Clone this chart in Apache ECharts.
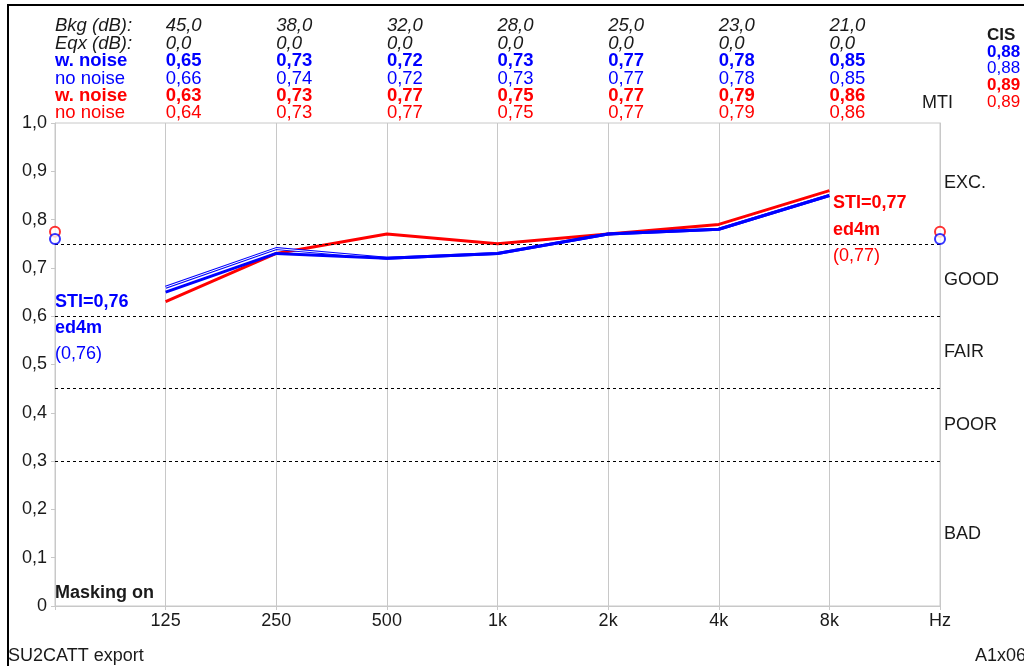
<!DOCTYPE html>
<html lang="en">

<head>
    <meta charset="UTF-8">
    <title>STI / MTI</title>
    <style>
        html, body { margin: 0; padding: 0; background: #fff; }
    </style>
</head>

<body>
    <div id="main" style="width: 1024px;height:666px;"></div>
</body>
<script src="https://cdn.jsdelivr.net/npm/echarts@6/dist/echarts.min.js"></script>

<script>
    // octave bands, first and last slot are the frame edges
    var freqLabels = ['', '125', '250', '500', '1k', '2k', '4k', '8k', 'Hz'];
    var rowNames = ['Bkg (dB):', 'Eqx (dB):', 'w. noise', 'no noise', 'w. noise', 'no noise'];
    var bkg = [45, 38, 32, 28, 25, 23, 21];
    var eqx = [0, 0, 0, 0, 0, 0, 0];
    var blueNoise = [0.65, 0.73, 0.72, 0.73, 0.77, 0.78, 0.85];
    var blueClean = [0.66, 0.74, 0.72, 0.73, 0.77, 0.78, 0.85];
    var redNoise = [0.63, 0.73, 0.77, 0.75, 0.77, 0.79, 0.86];
    var redClean = [0.64, 0.73, 0.77, 0.75, 0.77, 0.79, 0.86];
    var cis = [0.88, 0.88, 0.89, 0.89];
    var stiBlue = 0.76;
    var stiRed = 0.77;
    var stiMarkBlue = 0.76;
    var stiMarkRed = 0.775;
    var ratingNames = ['EXC.', 'GOOD', 'FAIR', 'POOR', 'BAD'];
    var ratingMid = [0.875, 0.675, 0.525, 0.375, 0.15];
    var limits = [0.3, 0.45, 0.6, 0.75];

    var FONT = "'Liberation Sans', Arial, sans-serif";
    var BLUE = '#0000ff';
    var RED = '#ff0000';
    var GRID = '#c8c8c8';
    var INK = '#1a1a1a';
    var HS = 18.5;

    function comma(v, d) {
        return v.toFixed(d).replace('.', ',');
    }

    function padded(arr) {
        return [null].concat(arr).concat([null]);
    }

    function edge(v) {
        return [[0, v], [8, v]];
    }

    var rich = {
        r0: { fontFamily: FONT, fontSize: HS, fontStyle: 'italic', color: INK, lineHeight: 17.4 },
        r1: { fontFamily: FONT, fontSize: HS, fontStyle: 'italic', color: INK, lineHeight: 17.4 },
        r2: { fontFamily: FONT, fontSize: HS, fontWeight: 'bold', color: BLUE, lineHeight: 17.4 },
        r3: { fontFamily: FONT, fontSize: HS, color: BLUE, lineHeight: 17.4 },
        r4: { fontFamily: FONT, fontSize: HS, fontWeight: 'bold', color: RED, lineHeight: 17.4 },
        r5: { fontFamily: FONT, fontSize: HS, color: RED, lineHeight: 17.4 }
    };

    function headerLabel(value, index) {
        var cells;
        if (index === 0) {
            cells = rowNames;
        } else if (index <= 7) {
            var i = index - 1;
            cells = [comma(bkg[i], 1), comma(eqx[i], 1), comma(blueNoise[i], 2),
                comma(blueClean[i], 2), comma(redNoise[i], 2), comma(redClean[i], 2)];
        } else {
            return '';
        }
        return cells.map(function (c, k) { return '{r' + k + '|' + c + '}'; }).join('\n');
    }

    function txt(text, x, y, color, bold, size) {
        return {
            type: 'text', x: x, y: y, silent: true,
            style: {
                text: text, fill: color || INK,
                font: (bold ? 'bold ' : '') + (size || 18) + 'px ' + FONT,
                textAlign: 'left', textVerticalAlign: 'middle',
                align: 'left', verticalAlign: 'middle'
            }
        };
    }

    var myChart = echarts.init(document.getElementById('main'));
    myChart.setOption({
        animation: false,
        backgroundColor: '#fff',
        grid: { left: 55, right: 84, top: 123, bottom: 60, show: true, borderColor: GRID, borderWidth: 1 },
        xAxis: [{
            type: 'category',
            data: freqLabels,
            boundaryGap: false,
            axisLine: { lineStyle: { color: GRID } },
            axisTick: { show: true, length: 4, lineStyle: { color: GRID } },
            axisLabel: { fontFamily: FONT, fontSize: 18, color: INK, margin: 6, interval: 0 },
            splitLine: { show: true, lineStyle: { color: GRID, width: 1 } }
        }, {
            type: 'category',
            data: freqLabels,
            boundaryGap: false,
            position: 'top',
            axisLine: { show: true, lineStyle: { color: GRID } },
            axisTick: { show: false },
            axisLabel: { interval: 0, align: 'left', margin: 1, formatter: headerLabel, rich: rich },
            splitLine: { show: false }
        }],
        yAxis: [{
            type: 'value',
            min: 0, max: 1, interval: 0.1,
            axisLine: { show: true, lineStyle: { color: GRID } },
            axisTick: { show: true, length: 4, lineStyle: { color: GRID } },
            splitLine: { show: false },
            axisLabel: {
                fontFamily: FONT, fontSize: 18, color: INK, margin: 8,
                formatter: function (v) { return v === 0 ? '0' : comma(v, 1); }
            }
        }, {
            type: 'value',
            position: 'right',
            min: 0, max: 1, interval: 0.025,
            axisLine: { show: true, lineStyle: { color: GRID } },
            axisTick: { show: false },
            splitLine: { show: false },
            axisLabel: {
                fontFamily: FONT, fontSize: 18, color: INK, margin: 4, align: 'left',
                formatter: function (v) {
                    for (var k = 0; k < ratingMid.length; k++) {
                        if (Math.abs(v - ratingMid[k]) < 0.001) return ratingNames[k];
                    }
                    return '';
                }
            }
        }],
        series: [{
            name: 'w. noise red',
            type: 'line',
            data: padded(redNoise),
            symbol: 'none',
            lineStyle: { color: RED, width: 3 },
            markLine: {
                silent: true,
                symbol: ['none', 'none'],
                label: { show: false },
                lineStyle: { color: '#000', width: 1, type: [3, 3] },
                data: limits.map(function (v) { return { yAxis: v }; })
            },
            z: 3
        }, {
            name: 'no noise blue',
            type: 'line',
            data: padded(blueClean),
            symbol: 'none',
            lineStyle: { color: BLUE, width: 3 },
            z: 4
        }, {
            name: 'no noise blue core',
            type: 'line',
            data: padded(blueClean),
            symbol: 'none',
            lineStyle: { color: '#fff', width: 1 },
            z: 4
        }, {
            name: 'w. noise blue',
            type: 'line',
            data: padded(blueNoise),
            symbol: 'none',
            lineStyle: { color: BLUE, width: 3 },
            z: 5
        }, {
            name: 'STI red',
            type: 'scatter',
            data: edge(stiMarkRed),
            symbol: 'emptyCircle',
            symbolSize: 10,
            itemStyle: { color: RED, borderColor: RED, borderWidth: 2.5 },
            clip: false,
            z: 6
        }, {
            name: 'STI blue',
            type: 'scatter',
            data: edge(stiMarkBlue),
            symbol: 'emptyCircle',
            symbolSize: 10,
            itemStyle: { color: BLUE, borderColor: BLUE, borderWidth: 2.5 },
            clip: false,
            z: 7
        }],
        graphic: [
            { type: 'line', silent: true, shape: { x1: 8, y1: 4, x2: 8, y2: 666 }, style: { stroke: '#000', lineWidth: 2 } },
            { type: 'line', silent: true, shape: { x1: 7, y1: 5, x2: 1024, y2: 5 }, style: { stroke: '#000', lineWidth: 2 } },
            txt('SU2CATT export', 8, 656),
            txt('A1x06', 975, 656),
            txt('Masking on', 55, 593, INK, true),
            txt('STI=' + comma(stiBlue, 2), 55, 302, BLUE, true),
            txt('ed4m', 55, 328, BLUE, true),
            txt('(' + comma(stiBlue, 2) + ')', 55, 354, BLUE),
            txt('STI=' + comma(stiRed, 2), 833, 203, RED, true),
            txt('ed4m', 833, 230, RED, true),
            txt('(' + comma(stiRed, 2) + ')', 833, 256, RED),
            txt('MTI', 922, 103),
            txt('CIS', 987, 35, INK, true, 17),
            txt(comma(cis[0], 2), 987, 52, BLUE, true, 17),
            txt(comma(cis[1], 2), 987, 68, BLUE, false, 17),
            txt(comma(cis[2], 2), 987, 85, RED, true, 17),
            txt(comma(cis[3], 2), 987, 102, RED, false, 17)
        ]
    });
</script>

</html>
